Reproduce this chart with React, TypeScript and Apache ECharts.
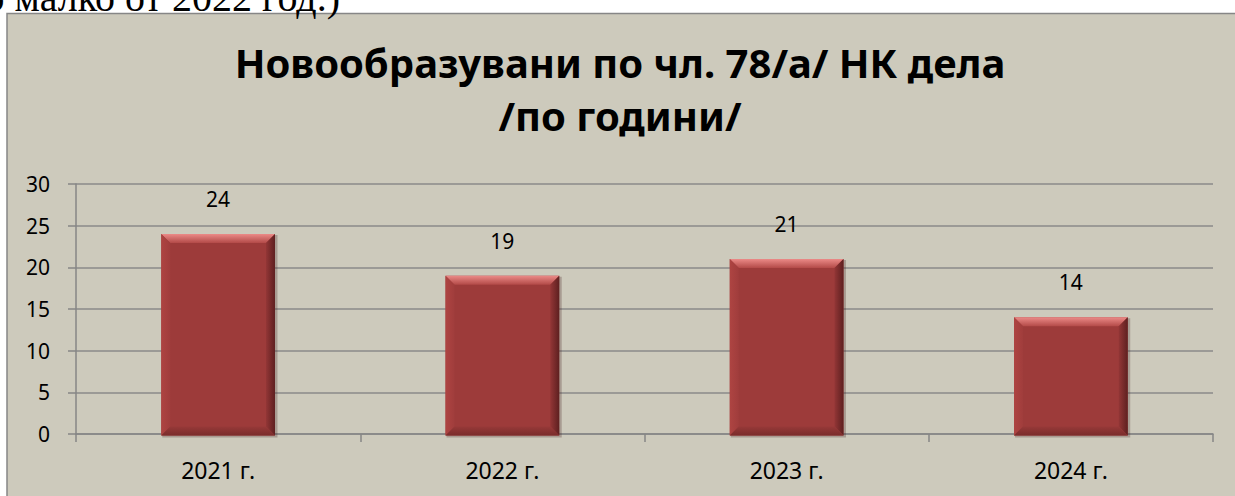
import React, { useEffect, useRef } from "react";
import * as echarts from "echarts";

const categories = ["2021 г.", "2022 г.", "2023 г.", "2024 г."];
const values = [24, 19, 21, 14];
const yMin = 0;
const yMax = 30;
const yStep = 5;
const titleLines = ["Новообразувани по чл. 78/а/ НК дела", "/по години/"];
const pageText = "ло малко от 2022 год.)";

const FONT = "'Noto Sans', sans-serif";

export default function App() {
  const ref = useRef<HTMLDivElement>(null);
  useEffect(() => {
    const chart = echarts.init(ref.current!, null, { renderer: "svg" });

    const renderItem = (params: any, api: any) => {
      const idx = api.value(0);
      const val = api.value(1);
      const top = api.coord([idx, val]);
      const base = api.coord([idx, 0]);
      const w = api.size([1, 0])[0] * 0.4;
      const x0 = top[0] - w / 2;
      const x1 = top[0] + w / 2;
      const y0 = top[1];
      const y1 = base[1] + 1.5;
      const b = 9;
      return {
        type: "group",
        children: [
          {
            type: "rect",
            shape: { x: x0 + 1, y: y0 + 1, width: w + 1.5, height: y1 - y0 + 1 },
            style: { fill: "rgba(60,20,20,0.25)" },
          },
          {
            type: "rect",
            shape: { x: x0, y: y0, width: w, height: y1 - y0 },
            style: { fill: "#9D3B3A" },
          },
          {
            type: "polygon",
            shape: { points: [[x0, y0], [x1, y0], [x1 - b, y0 + b], [x0 + b, y0 + b]] },
            style: {
              fill: new echarts.graphic.LinearGradient(0, 0, 0, 1, [
                { offset: 0, color: "#EB8A87" },
                { offset: 1, color: "#B34A48" },
              ]),
            },
          },
          {
            type: "polygon",
            shape: { points: [[x0, y0], [x0 + b, y0 + b], [x0 + b, y1 - b], [x0, y1]] },
            style: {
              fill: new echarts.graphic.LinearGradient(0, 0, 1, 0, [
                { offset: 0, color: "#AE4442" },
                { offset: 1, color: "#A03D3C" },
              ]),
            },
          },
          {
            type: "polygon",
            shape: { points: [[x1, y0], [x1, y1], [x1 - b, y1 - b], [x1 - b, y0 + b]] },
            style: {
              fill: new echarts.graphic.LinearGradient(0, 0, 1, 0, [
                { offset: 0, color: "#933636" },
                { offset: 1, color: "#5E2020" },
              ]),
            },
          },
          {
            type: "polygon",
            shape: { points: [[x0, y1], [x0 + b, y1 - b], [x1 - b, y1 - b], [x1, y1]] },
            style: {
              fill: new echarts.graphic.LinearGradient(0, 0, 0, 1, [
                { offset: 0, color: "#973938" },
                { offset: 1, color: "#7A2C2B" },
              ]),
            },
          },
          {
            type: "text",
            x: top[0],
            y: y0 - 35,
            style: {
              text: String(val),
              fill: "#000",
              fontSize: 21,
              fontFamily: FONT,
              align: "center",
              verticalAlign: "middle",
            },
          },
        ],
      };
    };

    chart.setOption({
      animation: false,
      backgroundColor: "#ffffff",
      graphic: [
        {
          type: "rect",
          z: -10,
          shape: { x: 7, y: 13.5, width: 1300, height: 600 },
          style: { fill: "#CDCABC", stroke: "#868686", lineWidth: 1.5 },
        },
        {
          type: "text",
          z: 10,
          x: 340,
          y: -3,
          style: {
            text: pageText,
            fill: "#000",
            fontSize: 40,
            fontFamily: "'Liberation Serif', serif",
            align: "right",
            verticalAlign: "middle",
          },
        },
        {
          type: "text",
          z: 10,
          x: 620,
          y: 89,
          style: {
            text: titleLines.join("\n"),
            fill: "#000",
            fontSize: 40,
            lineHeight: 53,
            fontWeight: "bold",
            fontFamily: FONT,
            align: "center",
            verticalAlign: "middle",
          },
        },
      ],
      grid: { left: 76, right: 22, top: 184, bottom: 62 },
      xAxis: {
        type: "category",
        data: categories,
        boundaryGap: true,
        axisLine: { show: true, lineStyle: { color: "#868686", width: 1.5 } },
        axisTick: { show: true, length: 8, alignWithLabel: false, lineStyle: { color: "#868686", width: 1.5 } },
        axisLabel: { color: "#000", fontSize: 23, fontFamily: FONT, margin: 24 },
      },
      yAxis: {
        type: "value",
        min: yMin,
        max: yMax,
        interval: yStep,
        axisLine: { show: true, lineStyle: { color: "#868686", width: 1.5 } },
        axisTick: { show: true, length: 8, lineStyle: { color: "#868686", width: 1.5 } },
        splitLine: { show: true, lineStyle: { color: "#8A8A8A", width: 1.5 } },
        axisLabel: { color: "#000", fontSize: 21, fontFamily: FONT, margin: 26 },
      },
      series: [
        {
          type: "custom",
          renderItem,
          encode: { x: 0, y: 1 },
          data: values.map((v, i) => [i, v]),
          z: 5,
        },
      ],
    });
    return () => chart.dispose();
  }, []);

  return (
    <div
      ref={ref}
      style={{ position: "absolute", left: 0, top: 0, width: 1235, height: 496 }}
    />
  );
}
